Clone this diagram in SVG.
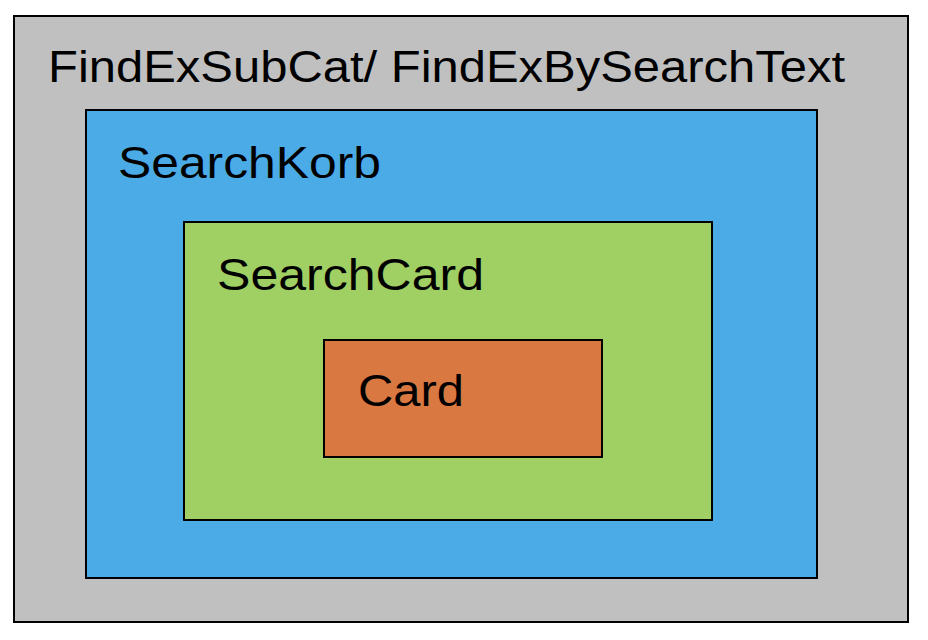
<svg xmlns="http://www.w3.org/2000/svg" width="928" height="640" viewBox="0 0 928 640">
<style>
rect{stroke:#000;stroke-width:2}
text{font-family:"Liberation Sans",Arial,sans-serif;font-size:44px;fill:#000}
</style>
<rect x="0" y="0" width="928" height="640" fill="#fff" style="stroke:none"/>
<g id="FindExSubCat">
<rect x="14" y="16" width="894" height="606" fill="#c0c0c0"/>
<text x="48" y="82" textLength="797" lengthAdjust="spacingAndGlyphs">FindExSubCat/ FindExBySearchText</text>
</g>
<g id="SearchKorb">
<rect x="86" y="110" width="731" height="468" fill="#4babe7"/>
<text x="118" y="178" textLength="263" lengthAdjust="spacingAndGlyphs">SearchKorb</text>
</g>
<g id="SearchCard">
<rect x="184" y="222" width="528" height="298" fill="#a0cf63"/>
<text x="217" y="290" textLength="267" lengthAdjust="spacingAndGlyphs">SearchCard</text>
</g>
<g id="Card">
<rect x="324" y="340" width="278" height="117" fill="#d97841"/>
<text x="358" y="406" textLength="106" lengthAdjust="spacingAndGlyphs">Card</text>
</g>
<g id="connectors"/>
</svg>
